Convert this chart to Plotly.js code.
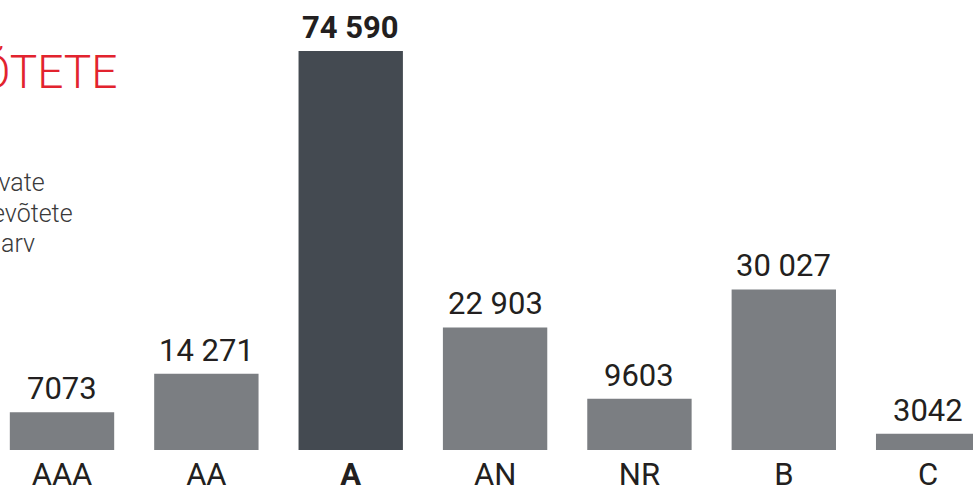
<!DOCTYPE html>
<html>
<head>
<meta charset="utf-8">
<script src="https://cdn.plot.ly/plotly-3.0.1.min.js"></script>
<style>
html,body{margin:0;padding:0;background:#fff;}
#chart{width:973px;height:486px;}
</style>
</head>
<body>
<div id="chart"></div>
<script>
// Data
const categories = ["AAA", "AA", "A", "AN", "NR", "B", "C"];
const values = [7073, 14271, 74590, 22903, 9603, 30027, 3042];
const highlight = "A";
const titleText = "ETTEVÕTETE";
const subtitleLines = ["omavate", "ettevõtete", "arv"];

const W = 973, H = 486;
const mB = 36;
const plotH = H - mB;

function fmt(n) {
  const s = String(n);
  if (n >= 10000) return s.replace(/\B(?=(\d{3})+(?!\d))/g, " ");
  return s;
}

const colors = categories.map(c => c === highlight ? "#444a51" : "#7b7e82");
const texts = values.map((v, i) => categories[i] === highlight ? "<b>" + fmt(v) + "</b>" : fmt(v));
const tickText = categories.map(c => c === highlight ? "<b>" + c + "</b>" : c);

const trace = {
  type: "bar",
  x: categories,
  y: values,
  marker: {color: colors},
  hoverinfo: "none"
};

const px2x = px => px / W;
const py2y = py => (plotH - py) / plotH;

const subtitleEnds = [46.7, 75, 36.7];
const subtitleY = [182, 213, 244];

const valueAnnotations = categories.map((c, i) => ({
  text: texts[i],
  x: c, y: values[i],
  xref: "x", yref: "y",
  xanchor: "center", yanchor: "bottom",
  yshift: 3,
  showarrow: false,
  font: {family: "Roboto", size: 31, color: "#231f20"}
}));

const annotations = [
  {
    text: titleText,
    xref: "paper", yref: "paper",
    x: px2x(119), y: py2y(72),
    xanchor: "right", yanchor: "middle",
    showarrow: false,
    font: {family: "Roboto", size: 46, color: "#e2232e", weight: 300}
  }
].concat(subtitleLines.map((t, i) => ({
  text: t,
  xref: "paper", yref: "paper",
  x: px2x(subtitleEnds[i]), y: py2y(subtitleY[i]),
  xanchor: "right", yanchor: "middle",
  showarrow: false,
  font: {family: "Roboto", size: 25, color: "#3a3a3a", weight: 300}
}))).concat(valueAnnotations);

const layout = {
  width: W, height: H,
  margin: {l: 0, r: 0, t: 0, b: mB, pad: 0},
  paper_bgcolor: "#ffffff",
  plot_bgcolor: "#ffffff",
  showlegend: false,
  bargap: 0.277,
  xaxis: {
    type: "category",
    range: [-0.4295, 6.3106],
    tickvals: categories,
    ticktext: tickText,
    ticks: "",
    showline: false,
    showgrid: false,
    zeroline: false,
    ticklabelstandoff: 3,
    tickfont: {family: "Roboto", size: 31, color: "#231f20"}
  },
  yaxis: {
    range: [0, 74590 * plotH / 399],
    visible: false,
    showgrid: false,
    zeroline: false
  },
  annotations: annotations
};

Plotly.newPlot("chart", [trace], layout, {displayModeBar: false, staticPlot: true});
</script>
</body>
</html>
